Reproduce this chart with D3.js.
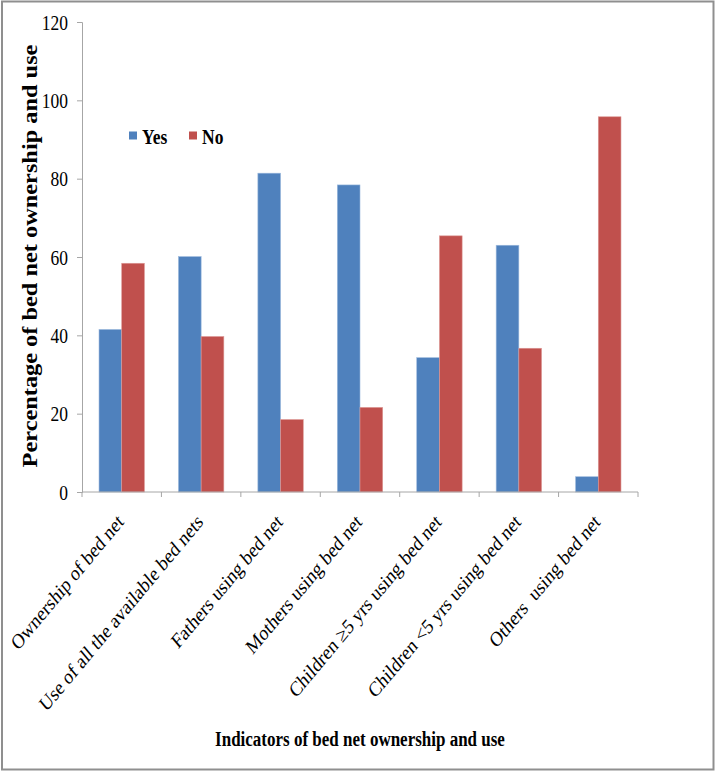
<!DOCTYPE html>
<html><head><meta charset="utf-8">
<script src="https://cdn.jsdelivr.net/npm/d3@7"></script>
<style>body{margin:0;background:#fff}svg{display:block}</style>
</head><body>
<script>
const categories = ["Ownership of bed net","Use of all the available bed nets","Fathers using bed net","Mothers using bed net","Children \u22655 yrs using bed net","Children <5 yrs using bed net","Others\u00a0 using bed net"];
const seriesNames = ["Yes","No"];
const yesValues = [41.5, 60.1, 81.4, 78.4, 34.3, 63.0, 3.9];
const noValues = [58.4, 39.7, 18.5, 21.6, 65.4, 36.7, 95.8];
const yTicks = [0,20,40,60,80,100,120];
const colors = {Yes:"#4F81BD", No:"#C0504D"};

(function(){
const W=716,H=772, SY=1.2;
const svg=d3.select("body").append("svg").attr("width",W).attr("height",H);
svg.append("rect").attr("x",2).attr("y",1.5).attr("width",711.5).attr("height",768).attr("fill","#fff").attr("stroke","#8f8f8f").attr("stroke-width",2);

const mLeft=82,mRight=638,mTop=22,mBottom=492;
const y=d3.scaleLinear().domain([0,120]).range([mBottom,mTop]);
const x0=d3.scaleBand().domain(categories).range([mLeft,mRight]).paddingInner(0).paddingOuter(0);
const x1=d3.scaleBand().domain(seriesNames).range([0,x0.bandwidth()]).paddingInner(0).paddingOuter(0.75);

const data=categories.map((c,i)=>({c, vals:[{s:"Yes",v:yesValues[i]},{s:"No",v:noValues[i]}]}));
const g=svg.append("g");
g.selectAll("g.cat").data(data).join("g").attr("class","cat").attr("transform",d=>`translate(${x0(d.c)},0)`)
 .selectAll("rect").data(d=>d.vals).join("rect")
 .attr("x",d=>x1(d.s)).attr("width",x1.bandwidth())
 .attr("y",d=>y(d.v)).attr("height",d=>mBottom-y(d.v)).attr("fill",d=>colors[d.s])
 .attr("stroke",d=>d.s==="Yes"?"#9cb9dd":"#dc9896").attr("stroke-width",0.6);

// y axis
const ya=svg.append("g").attr("transform",`translate(${mLeft},0)`).call(d3.axisLeft(y).tickValues(yTicks).tickSize(5).tickPadding(9));
ya.selectAll("path,line").attr("stroke","#a6a6a6");
ya.selectAll("text").attr("font-family","'Liberation Serif','Times New Roman',serif").attr("font-size",17.5).attr("fill","#000")
  .attr("dy",null).attr("transform",`scale(1,${SY})`).attr("dominant-baseline","central");

// x axis
const xa=svg.append("g");
xa.append("line").attr("x1",mLeft).attr("x2",mRight).attr("y1",mBottom).attr("y2",mBottom).attr("stroke","#a6a6a6");
const bounds=categories.map(c=>x0(c)).concat([mRight]);
xa.selectAll("line.t").data(bounds).join("line").attr("class","t").attr("x1",d=>d).attr("x2",d=>d).attr("y1",mBottom).attr("y2",mBottom+5).attr("stroke","#a6a6a6");
xa.selectAll("text").data(categories).join("text")
 .attr("transform",d=>`translate(${x0(d)+x0.bandwidth()/2+3},${mBottom+31}) scale(1,${SY}) rotate(-45)`)
 .attr("text-anchor","end").attr("font-family","'Liberation Serif','Times New Roman',serif").attr("font-size",17.5).attr("fill","#000")
 .style("white-space","pre").text(d=>d);

// axis titles
svg.append("text").attr("transform",`translate(37,256) scale(1,${SY}) rotate(-90)`).attr("text-anchor","middle")
 .attr("font-family","'Liberation Serif','Times New Roman',serif").attr("font-weight","bold").attr("font-size",20.3).text("Percentage of bed net ownership and use");
svg.append("text").attr("transform",`translate(360,746) scale(1,${SY})`).attr("text-anchor","middle")
 .attr("font-family","'Liberation Serif','Times New Roman',serif").attr("font-weight","bold").attr("font-size",17).text("Indicators of bed net ownership and use");

// legend
const lg=svg.append("g");
const lx=[129,189];
seriesNames.forEach((s,i)=>{
  lg.append("rect").attr("x",lx[i]).attr("y",131.5).attr("width",8).attr("height",8).attr("fill",colors[s]);
  lg.append("text").attr("transform",`translate(${lx[i]+13},143.5) scale(1,${SY})`).attr("font-family","'Liberation Serif','Times New Roman',serif")
    .attr("font-weight","bold").attr("font-size",17.5).text(s);
});
})();
</script>
</body></html>
